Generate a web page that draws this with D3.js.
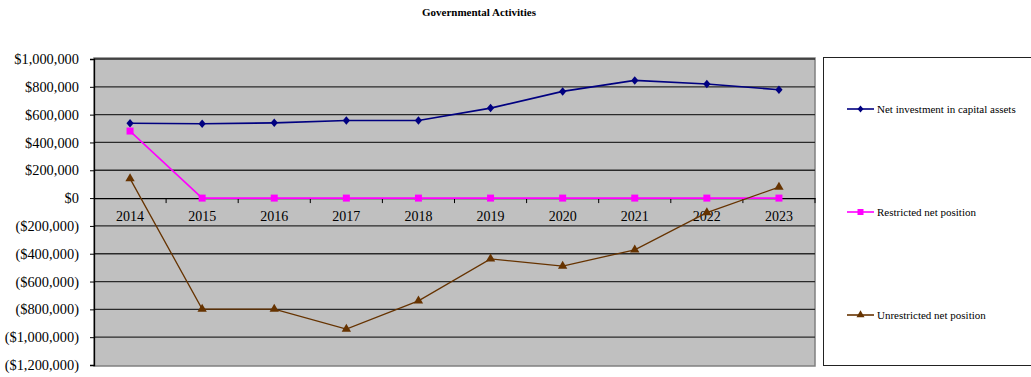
<!DOCTYPE html>
<html>
<head>
<meta charset="utf-8">
<script src="https://cdn.jsdelivr.net/npm/d3@7/dist/d3.min.js"></script>
<style>
  html, body { margin: 0; padding: 0; background: #fff; }
  svg { display: block; }
</style>
</head>
<body>
<svg id="chart" width="1031" height="377"></svg>
<script>
// Fiscal years on the category axis
const years = ["2014", "2015", "2016", "2017", "2018", "2019", "2020", "2021", "2022", "2023"];

// Net position components, in dollars
const netInvestment = [538000, 534000, 541000, 558000, 558000, 647000, 767000, 846000, 820000, 779000];
const restricted = [482000, 0, 0, 0, 0, 0, 0, 0, 0, 0];
const unrestricted = [140000, -798000, -798000, -942000, -739000, -437000, -489000, -372000, -104000, 79000];

// Value axis ticks
const yTicks = [1000000, 800000, 600000, 400000, 200000, 0, -200000, -400000, -600000, -800000, -1000000, -1200000];

const seriesNames = ["Net investment in capital assets", "Restricted net position", "Unrestricted net position"];
const seriesColors = ["#000080", "#ff00ff", "#663300"];
const seriesValues = [netInvestment, restricted, unrestricted];

// Compact diamond marker (slightly taller than wide)
const diamond = {
  draw(ctx, size) {
    const h = Math.sqrt(size) * 0.6, w = h * 0.85;
    ctx.moveTo(0, -h); ctx.lineTo(w, 0); ctx.lineTo(0, h); ctx.lineTo(-w, 0); ctx.closePath();
  }
};
const seriesShapes = [diamond, d3.symbolSquare, d3.symbolTriangle];
const markerSizes = [50, 49, 38];
const legendSizes = [34, 36, 28];

const SERIF = "'Liberation Serif', 'Times New Roman', Times, serif";

const svg = d3.select("#chart");

const plot = { left: 94, right: 815, top: 59, bottom: 365 };

const x = d3.scaleBand().domain(years).range([plot.left, plot.right]);
const y = d3.scaleLinear().domain([-1200000, 1000000]).range([plot.bottom, plot.top]);

const fmt = v => {
  const s = "$" + d3.format(",")(Math.abs(v));
  return v < 0 ? "(" + s + ")" : s;
};

// Title
svg.append("text")
  .attr("x", 479).attr("y", 16)
  .attr("text-anchor", "middle")
  .style("font-family", SERIF)
  .style("font-weight", "bold")
  .style("font-size", "11px")
  .attr("fill", "#000")
  .text("Governmental Activities");

// Plot background
svg.append("rect")
  .attr("x", plot.left).attr("y", plot.top - 1)
  .attr("width", plot.right - plot.left).attr("height", plot.bottom - plot.top + 2)
  .attr("fill", "#c0c0c0")
  .attr("stroke", "#808080")
  .attr("stroke-width", 1.5);

// Horizontal gridlines
svg.append("g")
  .selectAll("line")
  .data(yTicks.filter(d => d !== -1200000 && d !== 0))
  .join("line")
  .attr("x1", plot.left).attr("x2", plot.right)
  .attr("y1", d => y(d)).attr("y2", d => y(d))
  .attr("stroke", "#2a2a2a")
  .attr("stroke-width", 1.3);

// Value axis
const yAxis = d3.axisLeft(y).tickValues(yTicks).tickFormat(fmt).tickSize(4).tickPadding(11);
const yg = svg.append("g").attr("transform", `translate(${plot.left},0)`).call(yAxis)
  .attr("font-family", SERIF).attr("font-size", 14);
yg.select(".domain").attr("stroke", "#000").attr("stroke-width", 1.3);
yg.selectAll(".tick line").attr("stroke", "#000");
yg.selectAll(".tick text")
  .style("font-family", SERIF)
  .style("font-size", "14.4px")
  .attr("fill", "#000");

// Category axis along the zero line
const xAxis = d3.axisBottom(x).tickSize(0).tickPadding(13);
const xg = svg.append("g").attr("transform", `translate(0,${y(0)})`).call(xAxis)
  .attr("font-family", SERIF).attr("font-size", 14);
xg.select(".domain").attr("stroke", "#000").attr("stroke-width", 1.3);
xg.selectAll(".tick text")
  .style("font-family", SERIF)
  .style("font-size", "14px")
  .attr("fill", "#000");

// Tick marks between categories
xg.append("g")
  .selectAll("line")
  .data(d3.range(1, years.length + 1))
  .join("line")
  .attr("x1", k => plot.left + x.step() * k)
  .attr("x2", k => plot.left + x.step() * k)
  .attr("y1", 0).attr("y2", 5)
  .attr("stroke", "#000");

// Series lines and markers
const line = d3.line().x((d, i) => x(years[i]) + x.bandwidth() / 2).y(d => y(d));

seriesValues.forEach((vals, s) => {
  const g = svg.append("g");
  g.append("path")
    .datum(vals)
    .attr("d", line)
    .attr("fill", "none")
    .attr("stroke", seriesColors[s])
    .attr("stroke-width", s === 2 ? 1.3 : 1.6);
  g.selectAll("path.marker")
    .data(vals)
    .join("path")
    .attr("class", "marker")
    .attr("transform", (d, i) => `translate(${x(years[i]) + x.bandwidth() / 2},${y(d)})`)
    .attr("d", d3.symbol().type(seriesShapes[s]).size(markerSizes[s]))
    .attr("fill", seriesColors[s]);
});

// Legend
const legend = svg.append("g");
legend.append("rect")
  .attr("x", 823.5).attr("y", 57.5)
  .attr("width", 220).attr("height", 308)
  .attr("fill", "#fff")
  .attr("stroke", "#222")
  .attr("stroke-width", 1);

const legendY = [109, 212, 315];
seriesNames.forEach((name, s) => {
  const g = legend.append("g").attr("transform", `translate(0,${legendY[s]})`);
  g.append("line")
    .attr("x1", 847).attr("x2", 874)
    .attr("y1", 0).attr("y2", 0)
    .attr("stroke", seriesColors[s])
    .attr("stroke-width", 1.6);
  g.append("path")
    .attr("transform", "translate(860.5,0)")
    .attr("d", d3.symbol().type(seriesShapes[s]).size(legendSizes[s]))
    .attr("fill", seriesColors[s]);
  g.append("text")
    .attr("x", 877).attr("y", 4)
    .style("font-family", SERIF)
    .style("font-size", "11px")
    .attr("fill", "#000")
    .text(name);
});
</script>
</body>
</html>
